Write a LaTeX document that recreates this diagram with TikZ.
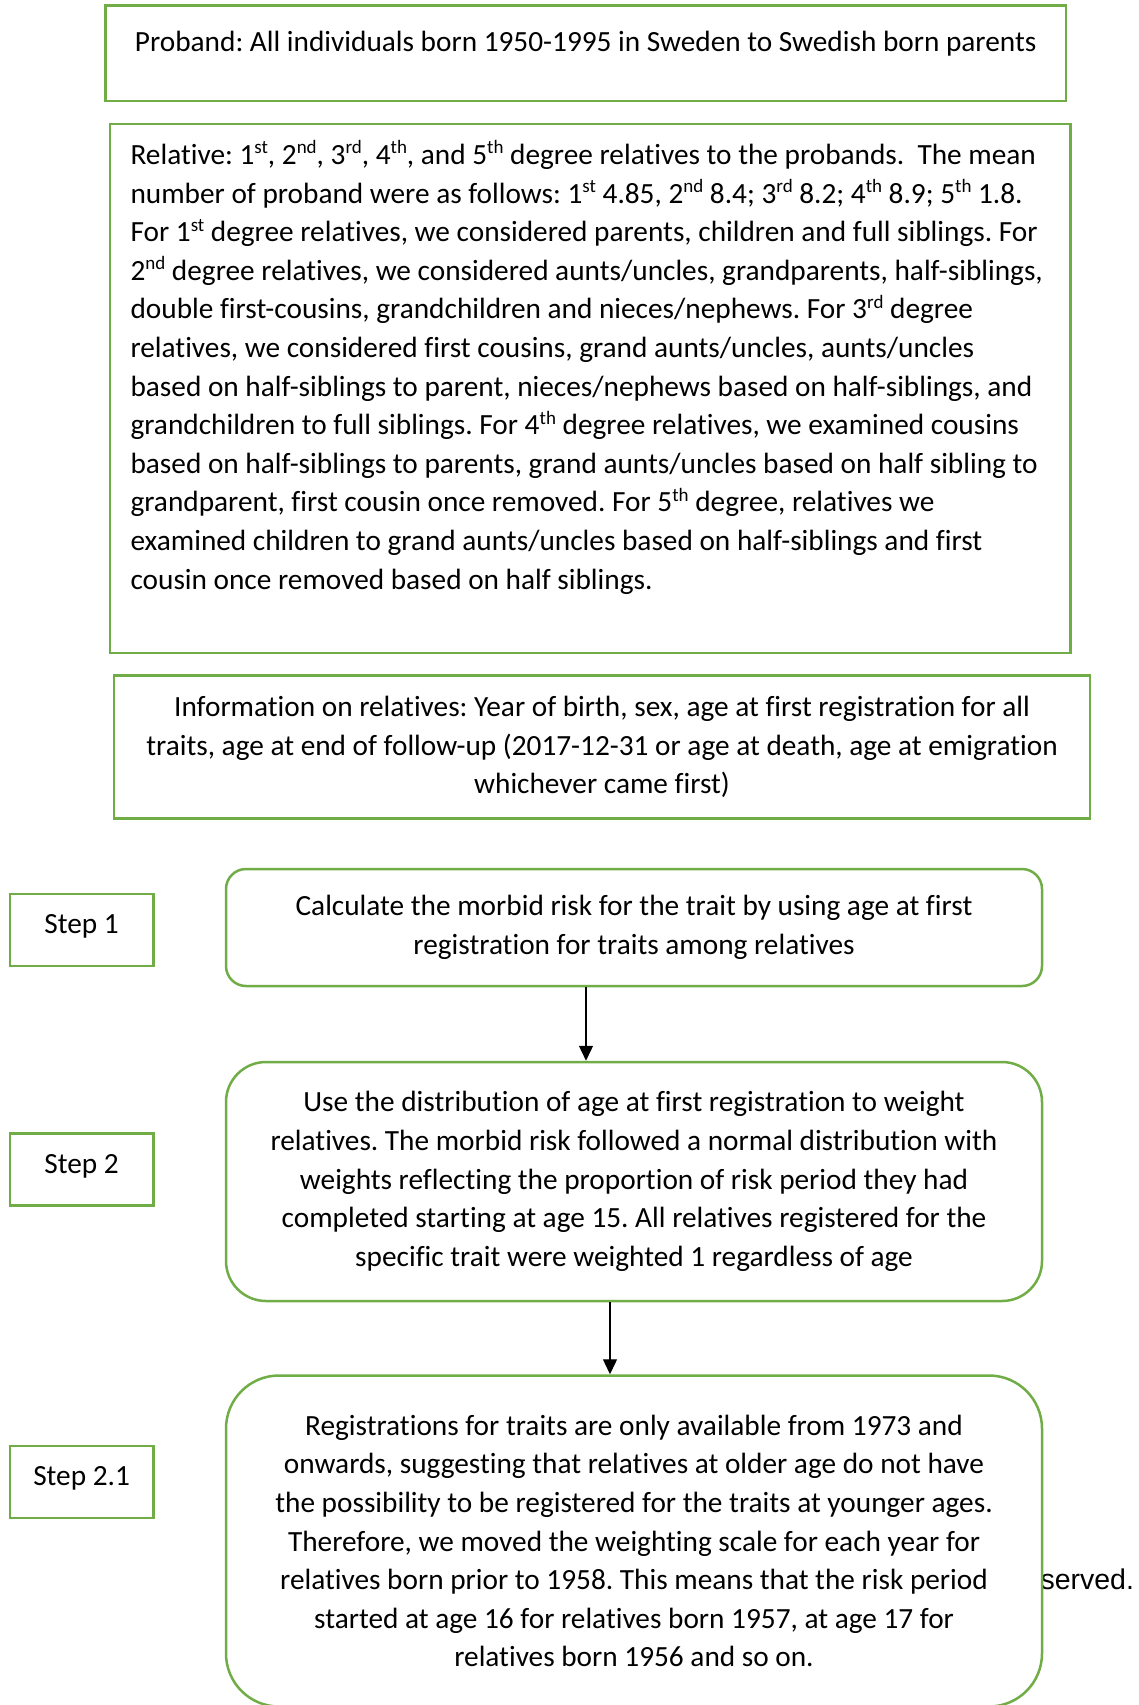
\documentclass[tikz,border=0pt]{standalone}
\usepackage{fontspec}
\setmainfont[Ligatures=CommonOff]{Carlito}
\newfontfamily\servedfont{Liberation Sans}
\usetikzlibrary{arrows.meta, positioning}
\definecolor{boxgreen}{HTML}{70AD47}
\newcommand{\flowfont}{\fontsize{29.3}{38.6}\selectfont\frenchspacing}
\newcommand{\ordsup}[1]{\raisebox{0.36em}{\fontsize{19}{19}\selectfont #1}}

\begin{document}
\begin{tikzpicture}[x=1pt, y=-1pt, font=\flowfont,
    greenbox/.style={draw=boxgreen, line width=2.5pt, fill=white, inner sep=0pt},
    roundbox/.style={greenbox, rounded corners=#1, minimum width=816, align=center},
    stepbox/.style={greenbox, minimum width=143.6, minimum height=72, text height=22pt, text depth=15pt},
    flowarrow/.style={-{Triangle[length=15pt,width=14pt]}, line width=1.3pt}]
\useasboundingbox (0,0) rectangle (1139,1705);

% text that sits behind the last box
\draw (1037,1589) node[anchor=base west, font=\servedfont\fontsize{28.5}{34}\selectfont] (served) {served.};

% boxes on top
\draw (585.75,53.3) node[greenbox, minimum width=960.5, minimum height=95.8,
    text height=27pt, text depth=31.6pt] (proband)
    {Proband: All individuals born 1950-1995 in Sweden to Swedish born parents};
\draw (590.25,388.5) node[greenbox, minimum width=960.5, minimum height=529] (relative) {};
\node[inner sep=0pt, align=left, below right=14.5pt and 21.6pt of relative.north west] (relativetext)
    {\strut Relative: 1\ordsup{st}, 2\ordsup{nd}, 3\ordsup{rd}, 4\ordsup{th}, and 5\ordsup{th} degree relatives to the probands. \ The mean\\
     number of proband were as follows: 1\ordsup{st} 4.85, 2\ordsup{nd} 8.4; 3\ordsup{rd} 8.2; 4\ordsup{th} 8.9; 5\ordsup{th} 1.8.\\
     For 1\ordsup{st} degree relatives, we considered parents, children and full siblings. For\\
     2\ordsup{nd} degree relatives, we considered aunts/uncles, grandparents, half-siblings,\\
     double first-cousins, grandchildren and nieces/nephews. For 3\ordsup{rd} degree\\
     relatives, we considered first cousins, grand aunts/uncles, aunts/uncles\\
     based on half-siblings to parent, nieces/nephews based on half-siblings, and\\
     grandchildren to full siblings. For 4\ordsup{th} degree relatives, we examined cousins\\
     based on half-siblings to parents, grand aunts/uncles based on half sibling to\\
     grandparent, first cousin once removed. For 5\ordsup{th} degree, relatives we\\
     examined children to grand aunts/uncles based on half-siblings and first\\
     cousin once removed based on half siblings.};
\draw (602,747) node[greenbox, minimum width=976, minimum height=143, align=center] (info)
    {Information on relatives: Year of birth, sex, age at first registration for all\\
     traits, age at end of follow-up (2017-12-31 or age at death, age at emigration\\
     whichever came first)};

% steps
\draw (81.6,930) node[stepbox] (step1) {Step 1};
\draw (81.6,1169.5) node[stepbox] (step2) {Step 2};
\draw (81.6,1482) node[stepbox] (step21) {Step 2.1};

\draw (634,927.5) node[roundbox=20pt, minimum height=117] (calc)
    {Calculate the morbid risk for the trait by using age at first\\
     registration for traits among relatives};
\draw (634,1181.5) node[roundbox=40pt, minimum height=239] (use)
    {Use the distribution of age at first registration to weight\\
     relatives. The morbid risk followed a normal distribution with\\
     weights reflecting the proportion of risk period they had\\
     completed starting at age 15. All relatives registered for the\\
     specific trait were weighted 1 regardless of age};
\draw (634,1541) node[roundbox=53pt, minimum height=331] (reg)
    {Registrations for traits are only available from 1973 and\\
     onwards, suggesting that relatives at older age do not have\\
     the possibility to be registered for the traits at younger ages.\\
     Therefore, we moved the weighting scale for each year for\\
     relatives born prior to 1958. This means that the risk period\\
     started at age 16 for relatives born 1957, at age 17 for\\
     relatives born 1956 and so on.};

\path[flowarrow]
    ([xshift=-48pt]calc.south) edge ([xshift=-48pt]use.north)
    ([xshift=-24pt]use.south) edge ([xshift=-24pt]reg.north);
\end{tikzpicture}
\end{document}
